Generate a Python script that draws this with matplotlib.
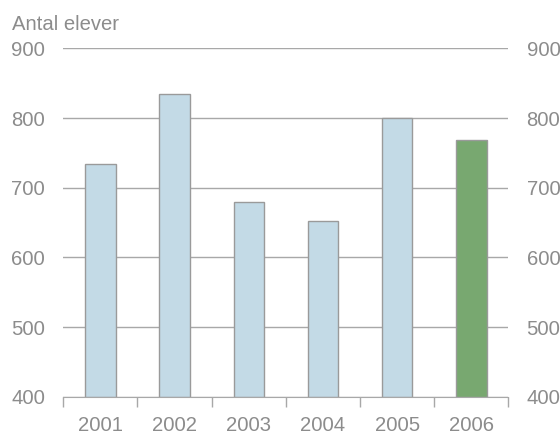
import numpy as np
import matplotlib.pyplot as plt

plt.rcParams['font.family'] = ['Liberation Sans', 'DejaVu Sans']

# Data
years = ['2001', '2002', '2003', '2004', '2005', '2006']
students = [734, 835, 680, 652, 800, 768]
colors = ['#c3dae6'] * 5 + ['#78a870']

grey = '#8c8c8c'
fs = 14.6

fig = plt.figure(figsize=(5.6, 4.36), dpi=100)
ax = fig.add_axes([0.113, 0.090, 0.795, 0.799])

x = np.arange(len(years))
ax.bar(x, np.array(students) - 400, bottom=400, width=0.41, color=colors,
       edgecolor='#9a9a9a', linewidth=1, zorder=3)

ax.set_xlim(-0.5, len(years) - 0.5)
ax.set_ylim(400, 900)
ax.set_yticks([400, 500, 600, 700, 800, 900])
ax.grid(axis='y', color='#a8a8a8', linewidth=1, zorder=0)

for s in ['top', 'left', 'right']:
    ax.spines[s].set_visible(False)
ax.spines['bottom'].set_color('#a8a8a8')
ax.spines['bottom'].set_zorder(4)

ax.set_xticks(x)
ax.set_xticklabels(years)
ax.set_xticks(np.arange(-0.5, len(years)), minor=True)
ax.tick_params(axis='x', which='major', length=0, pad=14, labelsize=fs, labelcolor=grey)
ax.tick_params(axis='x', which='minor', length=7, color='#a8a8a8', width=1)
ax.tick_params(axis='y', length=0, pad=13, labelsize=fs, labelcolor=grey,
               labelright=True)

fig.text(0.021, 0.965, 'Antal elever', fontsize=fs, color=grey, va='top')

plt.savefig('out.png', dpi=100)
